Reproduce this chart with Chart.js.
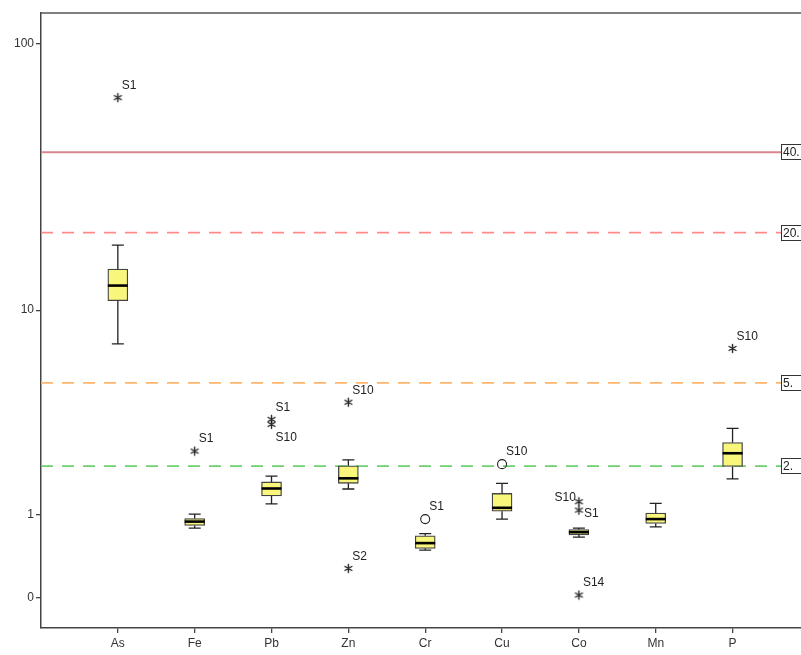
<!DOCTYPE html>
<html>
<head>
<meta charset="utf-8">
<script src="https://cdn.jsdelivr.net/npm/chart.js@4"></script>
<style>
  html, body { margin: 0; padding: 0; background: #fff; overflow: hidden; }
</style>
</head>
<body>
<canvas id="chart" width="815" height="655"></canvas>
<script>
// box plot values
const elements = ['As', 'Fe', 'Pb', 'Zn', 'Cr', 'Cu', 'Co', 'Mn', 'P'];
const whiskerLow  = [7.3,  0.79, 1.19, 1.48, 0.49, 0.93, 0.66, 0.81, 1.70];
const q1          = [10.9, 0.83, 1.34, 1.60, 0.51, 1.06, 0.69, 0.86, 1.99];
const median      = [12.5, 0.89, 1.49, 1.71, 0.58, 1.12, 0.73, 0.93, 2.34];
const q3          = [14.5, 0.94, 1.63, 2.01, 0.68, 1.39, 0.77, 1.03, 2.65];
const whiskerHigh = [17.9, 1.01, 1.76, 2.16, 0.71, 1.60, 0.79, 1.20, 3.11];

// outliers / extremes
const outlierElement = [0, 1, 2, 2, 3, 3, 4, 5, 6, 6, 6, 8];
const outlierValue   = [63.6, 2.40, 3.43, 3.25, 4.11, 0.28, 0.93, 2.05, 1.23, 1.08, 0.025, 7.0];
const outlierLabel   = ['S1', 'S1', 'S1', 'S10', 'S10', 'S2', 'S1', 'S10', 'S10', 'S1', 'S14', 'S10'];
const outlierKind    = ['extreme', 'extreme', 'extreme', 'extreme', 'extreme', 'extreme', 'outlier', 'outlier', 'extreme', 'extreme', 'extreme', 'extreme'];
const outlierLabelAt = ['ne', 'ne', 'ne', 'se', 'ne', 'ne', 'ne', 'ne', 'w', 'e', 'ne', 'ne'];

// reference lines
const refValues = [40, 20, 5, 2];
const refLabels = ['40.', '20.', '5.', '2.'];
const refColors = ['#d6868c', '#ff8a8a', '#ffb56b', '#6fcf6f'];
const refDashed = [false, true, true, true];

const yTickValues = [100, 10, 1, 0];

// axis is log10(v + 1)
const t = v => Math.log10(v + 1);

const FONT = "'Liberation Sans', Arial, sans-serif";

// small asterisk marker like the SPSS extreme symbol
function makeAsterisk() {
  const c = document.createElement('canvas');
  c.width = 11; c.height = 11;
  const g = c.getContext('2d');
  g.strokeStyle = '#222';
  g.lineWidth = 1.4;
  g.lineCap = 'round';
  const r = 4;
  g.beginPath();
  for (let k = 0; k < 3; k++) {
    const a = Math.PI / 2 + k * Math.PI / 3;
    g.moveTo(5.5 + r * Math.cos(a), 5.5 - r * Math.sin(a));
    g.lineTo(5.5 - r * Math.cos(a), 5.5 + r * Math.sin(a));
  }
  g.stroke();
  return c;
}
const asterisk = makeAsterisk();

const refDatasets = refValues.map((v, i) => ({
  type: 'line',
  data: [{ x: -1, y: t(v) }, { x: 9, y: t(v) }],
  borderColor: refColors[i],
  borderWidth: 1.8,
  borderDash: refDashed[i] ? [12, 9] : [],
  pointRadius: 0,
  order: 3,
}));

const whiskerPlugin = {
  id: 'whiskers',
  afterDatasetsDraw(chart) {
    const { ctx, scales: { x, y } } = chart;
    ctx.save();
    ctx.strokeStyle = '#222';
    ctx.lineWidth = 1.3;
    elements.forEach((el, i) => {
      const px = x.getPixelForValue(i);
      const yLo = y.getPixelForValue(t(whiskerLow[i]));
      const yQ1 = y.getPixelForValue(t(q1[i]));
      const yQ3 = y.getPixelForValue(t(q3[i]));
      const yHi = y.getPixelForValue(t(whiskerHigh[i]));
      ctx.beginPath();
      ctx.moveTo(px, yQ3); ctx.lineTo(px, yHi);
      ctx.moveTo(px - 6, yHi); ctx.lineTo(px + 6, yHi);
      ctx.moveTo(px, yQ1); ctx.lineTo(px, yLo);
      ctx.moveTo(px - 6, yLo); ctx.lineTo(px + 6, yLo);
      ctx.stroke();
    });
    ctx.lineWidth = 2.6;
    ctx.strokeStyle = '#000';
    elements.forEach((el, i) => {
      const px = x.getPixelForValue(i);
      const ym = y.getPixelForValue(t(median[i]));
      ctx.beginPath();
      ctx.moveTo(px - 10, ym); ctx.lineTo(px + 10, ym);
      ctx.stroke();
    });
    ctx.restore();
  }
};

const labelPlugin = {
  id: 'labels',
  afterDraw(chart) {
    const { ctx, chartArea, scales: { x, y } } = chart;
    ctx.save();
    // top frame line
    ctx.strokeStyle = '#555';
    ctx.lineWidth = 1.5;
    ctx.beginPath();
    ctx.moveTo(chartArea.left, chartArea.top);
    ctx.lineTo(chartArea.right, chartArea.top);
    ctx.stroke();

    ctx.font = '12px ' + FONT;
    ctx.fillStyle = '#222';
    ctx.textBaseline = 'middle';
    outlierValue.forEach((v, i) => {
      const px = x.getPixelForValue(outlierElement[i]);
      const py = y.getPixelForValue(t(v));
      const pos = outlierLabelAt[i];
      let dx = 4, dy = -12;
      ctx.textAlign = 'left';
      if (pos === 'se') { dy = 13; }
      if (pos === 'e') { dx = 5; dy = 4; }
      if (pos === 'w') { ctx.textAlign = 'right'; dx = -3; dy = -4; }
      ctx.fillText(outlierLabel[i], px + dx, py + dy);
    });

    // reference line value boxes
    ctx.textAlign = 'left';
    refValues.forEach((v, i) => {
      const py = Math.round(y.getPixelForValue(t(v)));
      ctx.fillStyle = '#fff';
      ctx.fillRect(781.5, py - 7.5, 30, 15);
      ctx.strokeStyle = '#333';
      ctx.lineWidth = 1;
      ctx.strokeRect(781.5, py - 7.5, 30, 15);
      ctx.fillStyle = '#222';
      ctx.fillText(refLabels[i], 783, py + 0.5);
    });
    ctx.restore();
  }
};

new Chart(document.getElementById('chart'), {
  type: 'bar',
  data: {
    datasets: [
      {
        type: 'scatter',
        data: outlierValue.map((v, i) => ({ x: outlierElement[i], y: t(v) })),
        pointStyle: outlierKind.map(k => (k === 'outlier' ? 'circle' : asterisk)),
        pointRadius: 4.5,
        pointBorderColor: '#222',
        pointBackgroundColor: 'rgba(0,0,0,0)',
        pointBorderWidth: 1.1,
        order: 1,
      },
      {
        type: 'bar',
        data: elements.map((el, i) => ({ x: i, y: [t(q1[i]), t(q3[i])] })),
        backgroundColor: '#f9f67c',
        borderColor: '#444',
        borderWidth: 1.3,
        borderSkipped: false,
        barThickness: 20,
        grouped: false,
        order: 2,
      },
      ...refDatasets,
    ],
  },
  options: {
    responsive: false,
    animation: false,
    layout: { padding: { top: 13, right: 4, left: 0, bottom: 0 } },
    plugins: { legend: { display: false }, tooltip: { enabled: false } },
    scales: {
      x: {
        type: 'linear',
        min: -1,
        max: 9,
        offset: false,
        afterBuildTicks: s => { s.ticks = elements.map((el, i) => ({ value: i })); },
        afterFit: s => { s.height = 27; },
        ticks: {
          autoSkip: false,
          maxRotation: 0,
          padding: 3,
          color: '#333',
          font: { family: FONT, size: 12 },
          callback: (v, i) => elements[i],
        },
        grid: { offset: false, drawOnChartArea: false, tickLength: 5, color: '#444', lineWidth: 1.3 },
        border: { color: '#444', width: 1.5 },
      },
      y: {
        type: 'linear',
        min: -0.1085,
        max: 2.1165,
        afterBuildTicks: s => { s.ticks = yTickValues.map(v => ({ value: t(v) })); },
        afterFit: s => { s.width = 41; },
        ticks: {
          autoSkip: false,
          padding: 2,
          color: '#333',
          font: { family: FONT, size: 12 },
          callback: (v, i) => String(yTickValues[i]),
        },
        grid: { drawOnChartArea: false, tickLength: 5, color: '#444', lineWidth: 1.3 },
        border: { color: '#444', width: 1.5 },
      },
    },
  },
  plugins: [whiskerPlugin, labelPlugin],
});
</script>
</body>
</html>
